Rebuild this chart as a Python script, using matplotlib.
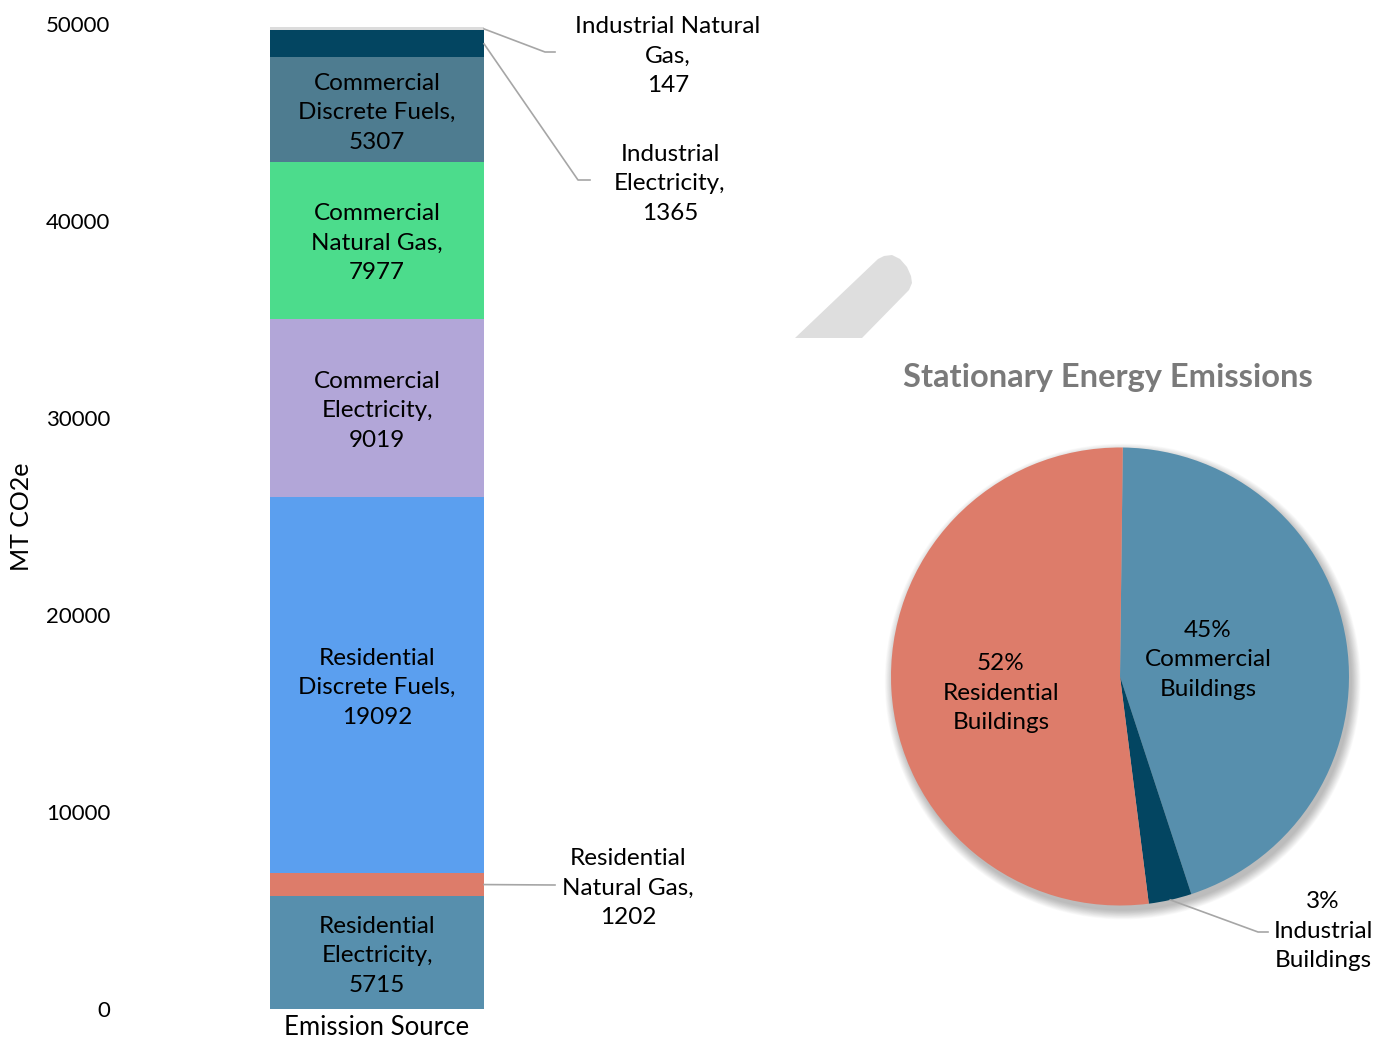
import matplotlib.pyplot as plt
import matplotlib.transforms as mtransforms
import numpy as np
from matplotlib.patches import Polygon, Circle

# ---- data -------------------------------------------------------------
sources = ["Residential Electricity", "Residential Natural Gas",
           "Residential Discrete Fuels", "Commercial Electricity",
           "Commercial Natural Gas", "Commercial Discrete Fuels",
           "Industrial Electricity", "Industrial Natural Gas"]
source_labels = ["Residential\nElectricity,", "Residential\nNatural Gas,",
                 "Residential\nDiscrete Fuels,", "Commercial\nElectricity,",
                 "Commercial\nNatural Gas,", "Commercial\nDiscrete Fuels,",
                 "Industrial\nElectricity,", "Industrial Natural\nGas,"]
emissions = [5715, 1202, 19092, 9019, 7977, 5307, 1365, 147]
source_sector = ["Residential", "Residential", "Residential", "Commercial",
                 "Commercial", "Commercial", "Industrial", "Industrial"]
source_colors = ["#578fad", "#dd7c6a", "#5b9fef", "#b2a6d8",
                 "#4cdc8c", "#4e7c90", "#034561", "#dcdcdc"]

sectors = ["Commercial", "Industrial", "Residential"]
sector_labels = ["Commercial\nBuildings", "Industrial\nBuildings",
                 "Residential\nBuildings"]
sector_colors = ["#578fad", "#034561", "#dd7c6a"]

y_ticks = [0, 10000, 20000, 30000, 40000, 50000]

# ---- figure -----------------------------------------------------------
W, H = 1377, 1047
FONT = "Lato"
plt.rcParams["font.family"] = [FONT, "DejaVu Sans"]
fig = plt.figure(figsize=(W / 100, H / 100), dpi=100)

LABEL_FS = 17.5
LINE_SP = 1.5


def fx(px):
    return px / W


def fy(py):
    return 1 - py / H


# ---- stacked column ---------------------------------------------------
bx0, bx1, by0, by1 = 270, 484, 1009, 24
ax = fig.add_axes([fx(bx0), fy(by0), (bx1 - bx0) / W, (by0 - by1) / H])
ax.set_xlim(-0.5, 0.5)
ax.set_ylim(0, 50000)
text_tr = mtransforms.offset_copy(ax.transData, fig=fig, y=-3, units="dots")


def to_data(px, py):
    return (-0.5 + (px - bx0) / (bx1 - bx0),
            (by0 - py) / (by0 - by1) * 50000)


bottom = 0
centers = []
for val, col in zip(emissions, source_colors):
    ax.bar(0, val, width=1.0, bottom=bottom, color=col, linewidth=0)
    centers.append(bottom + val / 2)
    bottom += val

# leader-line layout for the thin segments (pixel positions)
outside = {
    7: dict(text=(668, 53), path=[(545, 52), (555, 52)]),
    6: dict(text=(670, 181), path=[(578, 180), (590, 180)]),
    1: dict(text=(628, 885), path=[(555, 885)]),
}

for i, (lab, val, c) in enumerate(zip(source_labels, emissions, centers)):
    txt = f"{lab}\n{val}"
    if i in outside:
        lay = outside[i]
        pts = [(0.5, c)] + [to_data(*p) for p in lay["path"]]
        xs, ys = zip(*pts)
        ax.plot(xs, ys, color="#a6a6a6", lw=1.2, clip_on=False)
        tx, ty = to_data(*lay["text"])
        ax.text(tx, ty, txt, ha="center", va="center", fontsize=LABEL_FS,
                linespacing=LINE_SP, color="black", clip_on=False,
                transform=text_tr)
    else:
        ax.text(0, c, txt, ha="center", va="center", fontsize=LABEL_FS,
                linespacing=LINE_SP, color="black", transform=text_tr)

for s in ax.spines.values():
    s.set_visible(False)
ax.set_yticks(y_ticks)
ax.set_yticklabels([str(t) for t in y_ticks], fontsize=16, color="black")
ax.tick_params(axis="y", length=0, pad=115)
ax.set_xticks([0])
ax.set_xticklabels(["Emission Source"], fontsize=18.5, color="black")
ax.tick_params(axis="x", length=0, pad=4)
ax.set_ylabel("MT CO2e", fontsize=18, color="black")
ax.yaxis.set_label_coords((33 - bx0) / (bx1 - bx0), 0.5)

# ---- stray shape ------------------------------------------------------
shape_px = [(795, 338), (878, 259), (884, 256), (892, 255), (900, 259),
            (907, 267), (911, 276), (912, 283), (909, 290), (862, 338)]
fig.patches.append(Polygon([(fx(x), fy(y)) for x, y in shape_px],
                           closed=True, transform=fig.transFigure,
                           facecolor="#dedede", edgecolor="none"))

# ---- pie --------------------------------------------------------------
sector_totals = [sum(v for v, s in zip(emissions, source_sector) if s == sec)
                 for sec in sectors]
total = sum(sector_totals)

pcx, pcy, pr = 1120, 676.5, 229
pax = fig.add_axes([fx(pcx - pr), fy(pcy + pr), 2 * pr / W, 2 * pr / H])

# soft drop shadow
for k in range(14):
    pax.add_patch(Circle((0.012, -0.022), 1.0 + 0.003 * k, facecolor="black",
                         edgecolor="none", alpha=0.018, zorder=0,
                         clip_on=False))

start = 89.3
wedges, _ = pax.pie(sector_totals, colors=sector_colors, startangle=start,
                    counterclock=False, radius=1.0,
                    wedgeprops=dict(linewidth=0, zorder=2))
pax.set_xlim(-1, 1)
pax.set_ylim(-1, 1)
pax.set_axis_off()

# label centres in pixels
label_px = {"Commercial": (1208, 660), "Residential": (1001, 693),
            "Industrial": (1323, 931)}
for w, sec, lab, v in zip(wedges, sectors, sector_labels, sector_totals):
    mid = np.deg2rad((w.theta1 + w.theta2) / 2)
    pct = f"{round(100 * v / total)}%"
    lx, ly = label_px[sec]
    if sec == "Industrial":
        ex, ey = np.cos(mid), np.sin(mid)
        p1 = ((1258 - pcx) / pr, -(932 - pcy) / pr)
        p2 = ((1268 - pcx) / pr, -(932 - pcy) / pr)
        pax.plot([ex, p1[0], p2[0]], [ey, p1[1], p2[1]], color="#a6a6a6",
                 lw=1.2, clip_on=False, zorder=5)
    pax.text((lx - pcx) / pr, -(ly - pcy) / pr, f"{pct}\n{lab}",
             ha="center", va="center", fontsize=LABEL_FS,
             linespacing=LINE_SP, color="black", clip_on=False, zorder=5)

fig.text(fx(1108), fy(378), "Stationary Energy Emissions", ha="center",
         va="center", fontsize=23.5, fontweight="bold", color="#7a7a7a")

fig.savefig("out.png", dpi=100)
